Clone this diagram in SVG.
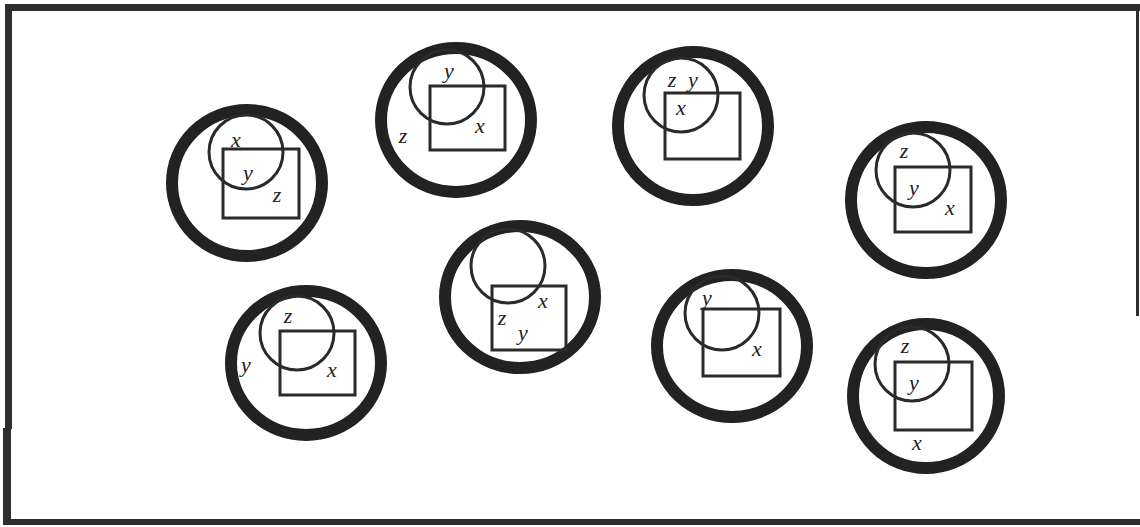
<svg xmlns="http://www.w3.org/2000/svg" width="1140" height="527" viewBox="0 0 1140 527">
<style>
.big{fill:none;stroke:#222;stroke-width:12}
.sm{fill:none;stroke:#2a2a2a;stroke-width:3}
.sq{fill:none;stroke:#2a2a2a;stroke-width:3}
.lb{font-family:"Liberation Serif","DejaVu Serif",serif;font-style:italic;font-size:22px;fill:#222;text-anchor:middle}
.fr{fill:#2e2e2e}
</style>
<rect width="1140" height="527" fill="#fff"/>
<g id="frame">
<rect class="fr" x="5" y="4" width="1135" height="7"/>
<rect class="fr" x="5" y="4" width="7" height="425"/>
<rect class="fr" x="3" y="428" width="8" height="97"/>
<rect class="fr" x="1136" y="4" width="3" height="312"/>
<rect class="fr" x="5" y="519" width="1135" height="6"/>
</g>
<g id="connectors"/>
<g id="node1">
<ellipse class="big" cx="247" cy="183" rx="75" ry="73"/>
<circle class="sm" cx="246" cy="152" r="37"/>
<rect class="sq" x="223" y="149" width="76" height="69"/>
<text class="lb" x="236" y="147">x</text>
<text class="lb" x="248" y="180">y</text>
<text class="lb" x="277" y="202">z</text>
</g>
<g id="node2">
<ellipse class="big" cx="456" cy="120" rx="75" ry="72"/>
<circle class="sm" cx="447" cy="87" r="37"/>
<rect class="sq" x="430" y="86" width="75" height="64"/>
<text class="lb" x="449" y="78">y</text>
<text class="lb" x="480" y="133">x</text>
<text class="lb" x="403" y="143">z</text>
</g>
<g id="node3">
<ellipse class="big" cx="693" cy="126" rx="75" ry="74"/>
<circle class="sm" cx="681" cy="95" r="37"/>
<rect class="sq" x="665" y="93" width="75" height="66"/>
<text class="lb" x="672" y="87">z</text>
<text class="lb" x="693" y="87">y</text>
<text class="lb" x="681" y="115">x</text>
</g>
<g id="node4">
<ellipse class="big" cx="926" cy="200" rx="75" ry="73"/>
<circle class="sm" cx="913" cy="170" r="37"/>
<rect class="sq" x="895" y="167" width="76" height="65"/>
<text class="lb" x="904" y="158">z</text>
<text class="lb" x="914" y="195">y</text>
<text class="lb" x="950" y="215">x</text>
</g>
<g id="node5">
<ellipse class="big" cx="306" cy="363" rx="75" ry="72"/>
<circle class="sm" cx="297" cy="333" r="37"/>
<rect class="sq" x="280" y="331" width="75" height="64"/>
<text class="lb" x="288" y="323">z</text>
<text class="lb" x="246" y="372">y</text>
<text class="lb" x="332" y="377">x</text>
</g>
<g id="node6">
<ellipse class="big" cx="520" cy="297" rx="75" ry="71"/>
<circle class="sm" cx="508" cy="266" r="37"/>
<rect class="sq" x="492" y="286" width="74" height="64"/>
<text class="lb" x="543" y="308">x</text>
<text class="lb" x="502" y="325">z</text>
<text class="lb" x="523" y="340">y</text>
</g>
<g id="node7">
<ellipse class="big" cx="732" cy="346" rx="75" ry="71"/>
<circle class="sm" cx="722" cy="313" r="37"/>
<rect class="sq" x="703" y="309" width="77" height="67"/>
<text class="lb" x="707" y="305">y</text>
<text class="lb" x="757" y="356">x</text>
</g>
<g id="node8">
<ellipse class="big" cx="926" cy="396" rx="73" ry="72"/>
<circle class="sm" cx="912" cy="364" r="37"/>
<rect class="sq" x="895" y="362" width="77" height="68"/>
<text class="lb" x="905" y="353">z</text>
<text class="lb" x="914" y="390">y</text>
<text class="lb" x="917" y="450">x</text>
</g>
</svg>
